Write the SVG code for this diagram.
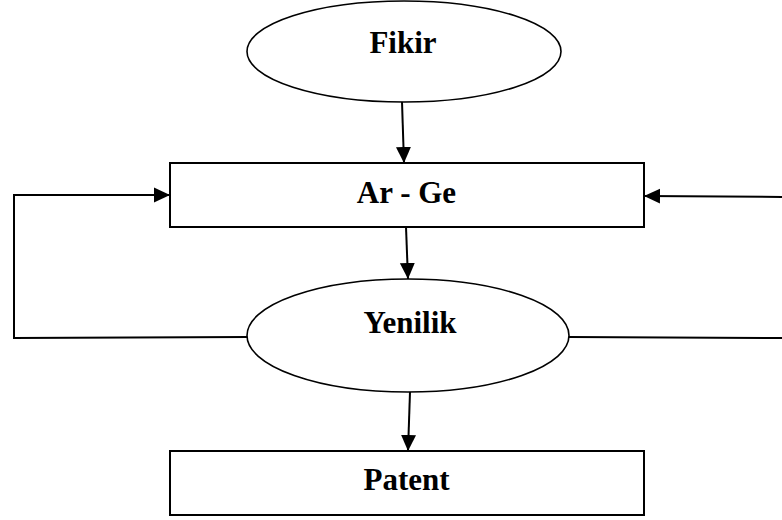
<svg xmlns="http://www.w3.org/2000/svg" width="782" height="520" viewBox="0 0 782 520">
<style>
.shape{fill:#fff;stroke:#000;stroke-width:2}
.ell{fill:#fff;stroke:#000;stroke-width:1.6}
.lbl{font-family:"Liberation Serif","Times New Roman",serif;font-weight:bold;font-size:31px;text-anchor:middle;fill:#000}
.con{fill:none;stroke:#000;stroke-width:2}
</style>
<defs>
<marker id="ah" markerUnits="userSpaceOnUse" markerWidth="16" markerHeight="16" viewBox="0 0 16 16" refX="16" refY="8" orient="auto">
<path d="M0,0.5 L16,8 L0,15.5 Z" fill="#000"/>
</marker>
</defs>
<rect width="782" height="520" fill="#fff"/>
<g id="connectors">
<line class="con" x1="402" y1="102" x2="404" y2="163" marker-end="url(#ah)"/>
<line class="con" x1="406" y1="227" x2="408" y2="279" marker-end="url(#ah)"/>
<line class="con" x1="410" y1="392" x2="408" y2="451" marker-end="url(#ah)"/>
<polyline class="con" points="249,337 14,338 14,195 170,195" marker-end="url(#ah)"/>
<polyline class="con" points="569,337 782,338"/>
<line class="con" x1="782" y1="197" x2="644" y2="196" marker-end="url(#ah)"/>
</g>
<g id="fikir">
<ellipse class="ell" cx="404" cy="51.5" rx="157" ry="50.5"/>
<text class="lbl" x="403" y="53">Fikir</text>
</g>
<g id="arge">
<rect class="shape" x="170" y="163" width="474" height="64"/>
<text class="lbl" x="406.5" y="203">Ar - Ge</text>
</g>
<g id="yenilik">
<ellipse class="ell" cx="408" cy="335.5" rx="161" ry="56.5"/>
<text class="lbl" x="410" y="333">Yenilik</text>
</g>
<g id="patent">
<rect class="shape" x="170" y="451" width="474" height="64"/>
<text class="lbl" x="406.5" y="490">Patent</text>
</g>
</svg>
